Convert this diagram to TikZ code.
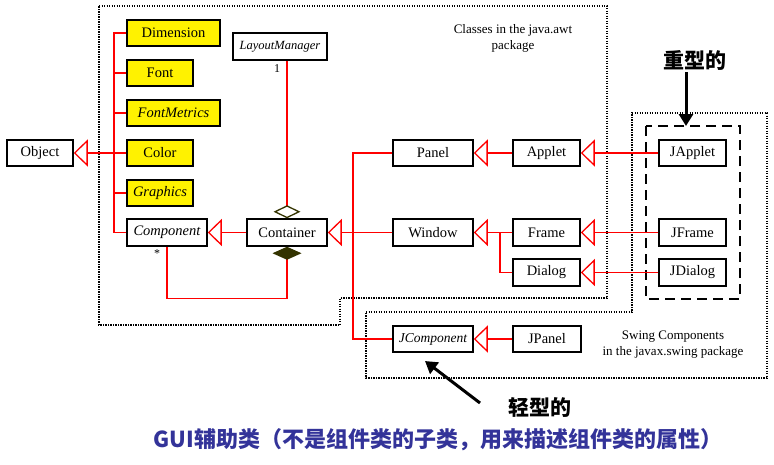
\documentclass[tikz,border=0pt]{standalone}
\usepackage{fontspec}
\setmainfont{Liberation Serif}
\newfontfamily\cjk{Noto Sans CJK SC}
\usetikzlibrary{arrows.meta}
\definecolor{olivedk}{RGB}{51,51,0}
\definecolor{guiblue}{RGB}{51,51,153}
\tikzset{
  cls/.style={draw=black, line width=1.5pt, minimum height=26pt, inner sep=0pt, font=\fontsize{14.5}{16}\selectfont, anchor=center},
  yel/.style={cls, fill=yellow},
  rl/.style={draw=red, line width=1.3pt},
  inh/.style={rl, -{Triangle[open, length=14pt, width=27pt, line width=1.3pt]}},
  pkgbox/.style={draw=black, line width=2.3pt, dash pattern=on 1.4pt off 1.1pt},
  heavybox/.style={draw=black, line width=2.6pt, dash pattern=on 10pt off 6pt},
  note/.style={font=\fontsize{13}{16}\selectfont, align=center},
  bigarrow/.style={draw=black, line width=3pt, -{Triangle[length=12pt, width=14pt]}},
  cjklabel/.style={font=\cjk\bfseries\fontsize{21}{24}\selectfont}
}
\begin{document}
\begin{tikzpicture}[x=1pt, y=-1pt]
\path[use as bounding box] (0,0) rectangle (774,464);

% package boxes
\draw[pkgbox] (99,6) -- (607,6) -- (607,298) -- (340,298) -- (340,325) -- (99,325) -- cycle;
\draw[pkgbox] (366,312) -- (632,312) -- (632,113) -- (767,113) -- (767,378) -- (366,378) -- cycle;
\draw[heavybox] (646,126) rectangle (740,299);

% nodes
\node[cls, minimum width=66pt] (Object) at (40,153) {Object};
\node[yel, minimum width=93pt] (Dimension) at (173.5,33) {Dimension};
\node[yel, minimum width=66pt] (Font) at (160,73) {Font};
\node[yel, minimum width=93pt] (FontMetrics) at (173.5,113) {\itshape FontMetrics};
\node[yel, minimum width=66pt] (Color) at (160,153) {Color};
\node[yel, minimum width=66pt] (Graphics) at (160,193) {\itshape Graphics};
\node[cls, minimum width=80pt, minimum height=27pt] (Component) at (167,232.5) {\itshape Component};
\node[cls, minimum width=94pt, minimum height=27pt, font=\fontsize{12.5}{14}\selectfont\itshape] (LayoutManager) at (280,46.5) {LayoutManager};
\node[cls, minimum width=80pt, minimum height=27pt] (Container) at (287,232.5) {Container};
\node[cls, minimum width=80pt] (Panel) at (433,153) {Panel};
\node[cls, minimum width=80pt, minimum height=27pt] (Window) at (433,232.5) {Window};
\node[cls, minimum width=67pt] (Applet) at (546.5,153) {Applet};
\node[cls, minimum width=67pt, minimum height=27pt] (Frame) at (546.5,232.5) {Frame};
\node[cls, minimum width=67pt, minimum height=27pt] (Dialog) at (546.5,272.5) {Dialog};
\node[cls, minimum width=67pt] (JApplet) at (692.5,153) {JApplet};
\node[cls, minimum width=67pt, minimum height=27pt] (JFrame) at (692.5,232.5) {JFrame};
\node[cls, minimum width=67pt, minimum height=27pt] (JDialog) at (692.5,272.5) {JDialog};
\node[cls, minimum width=80pt, font=\fontsize{13.5}{16}\selectfont\itshape] (JComponent) at (433,339) {JComponent};
\node[cls, minimum width=68pt] (JPanel) at (547,339) {JPanel};

% notes
\node[note] (awtnote) at (513,38) {Classes in the java.awt\\package};
\node[note] (swingnote) at (673,344.5) {Swing Components\\in the javax.swing package};
\node[font=\fontsize{12}{14}\selectfont] (one) at (277,69) {1};
\node[font=\fontsize{12}{14}\selectfont] (star) at (157,254) {*};

% trunk coordinates
\coordinate (tx) at (114,0);
\coordinate (jx) at (353,232.5);
\coordinate (dx) at (500,232.5);

% GUI helper classes
\draw[rl] (Dimension.west) -- (Dimension.west -| tx) -- (Component.west -| tx) -- (Component.west);
\draw[rl] (Font.west) -- (Font.west -| tx);
\draw[rl] (FontMetrics.west) -- (FontMetrics.west -| tx);
\draw[rl] (Graphics.west) -- (Graphics.west -| tx);
\draw[inh] (Color.west) -- (Object.east);

% inheritance
\draw[inh] (Container.west) -- (Component.east);
\draw[inh] (Window.west) -- (Container.east);
\draw[rl] (Panel.west) -| (jx);
\draw[rl] (JComponent.west) -| (jx);
\draw[inh] (Applet.west) -- (Panel.east);
\draw[inh] (Frame.west) -- (Window.east);
\draw[rl] (Dialog.west) -| (dx);
\draw[inh] (JApplet.west) -- (Applet.east);
\draw[inh] (JFrame.west) -- (Frame.east);
\draw[inh] (JDialog.west) -- (Dialog.east);
\draw[inh] (JPanel.west) -- (JComponent.east);

% aggregation / composition
\draw[rl, -{Diamond[open, length=13pt, width=27pt, color=olivedk, line width=1.3pt]}] (LayoutManager.south -| Container.north) -- (Container.north);
\draw[rl, {Diamond[length=13pt, width=29pt, color=olivedk, fill=olivedk]}-] (Container.south) -- ++(0,52) -| (Component.south);

% Chinese labels
\node[cjklabel] (heavy) at (695,60) {重型的};
\coordinate (h1) at (686,72);
\coordinate (h2) at (686,126);
\draw[bigarrow] (h1) -- (h2);
\node[cjklabel] (light) at (540,407) {轻型的};
\coordinate (l1) at (480,403);
\coordinate (l2) at (425,361);
\draw[bigarrow] (l1) -- (l2);
\node[text=guiblue, font=\cjk\bfseries\fontsize{22}{26}\selectfont] (gui) at (438,440) {GUI辅助类（不是组件类的子类，用来描述组件类的属性）};
\end{tikzpicture}
\end{document}
